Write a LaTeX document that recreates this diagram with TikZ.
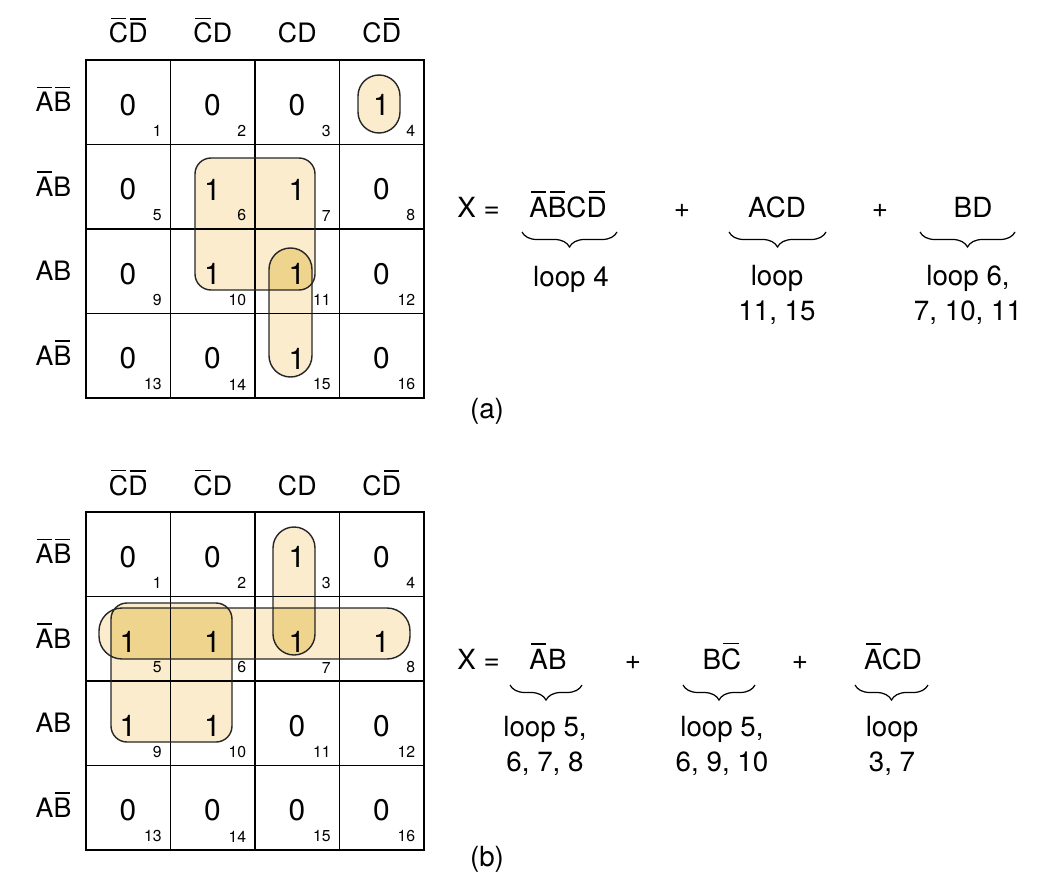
\documentclass[tikz,border=0pt]{standalone}
\usepackage{fontspec}
\setmainfont{TeX Gyre Heros}
\usetikzlibrary{decorations.pathreplacing}

\definecolor{loopcol}{RGB}{250,236,205}
\definecolor{overlapcol}{RGB}{239,212,142}

% letter with its own short bar
\newcommand{\inv}[1]{\setbox0=\hbox{#1}\rlap{\kern0.1\wd0\rule[\dimexpr\ht0+0.14em\relax]{0.8\wd0}{0.055em}}#1}

\tikzset{
  hdr/.style={font=\fontsize{15.2}{18}\selectfont, inner sep=0pt, anchor=base},
  val/.style={font=\fontsize{17}{20}\selectfont, inner sep=0pt},
  idx/.style={font=\fontsize{9}{10}\selectfont, inner sep=0pt, anchor=south east},
  eq/.style={font=\fontsize{15.8}{19.5}\selectfont, inner sep=0pt, anchor=base},
  looplabel/.style={eq, align=center},
  gridline/.style={line width=1.1pt},
  frame/.style={line width=1.5pt},
  loopbox/.style={draw=black!85, line width=0.8pt},
  termbrace/.style={decorate, decoration={brace, mirror, amplitude=0.3cm}, line width=0.7pt}
}

\begin{document}
\begin{tikzpicture}[x=0.02cm, y=-0.02cm]
\useasboundingbox (0,0) rectangle (1037,892);

%% map (a)
\begin{scope}
\fill[loopcol, rounded corners=0.42cm] (358,75) rectangle (400,133);
\fill[loopcol, rounded corners=0.32cm] (195,158) rectangle (315,290);
\fill[loopcol, rounded corners=0.43cm] (269,248) rectangle (312,377);
\begin{scope}
\clip[rounded corners=0.32cm] (195,158) rectangle (315,290);
\fill[overlapcol, rounded corners=0.43cm] (269,248) rectangle (312,377);
\end{scope}

\foreach \x in {170.5,255,339.5} \draw[gridline] (\x,60) -- (\x,398);
\foreach \y in {144.5,229,313.5} \draw[gridline] (86,\y) -- (424,\y);
\draw[frame] (86,60) rectangle (424,398);

\draw[loopbox, rounded corners=0.42cm] (358,75) rectangle (400,133);
\draw[loopbox, rounded corners=0.32cm] (195,158) rectangle (315,290);
\draw[loopbox, rounded corners=0.43cm] (269,248) rectangle (312,377);

\foreach \t [count=\i] in {{\inv{C}\inv{D}},{\inv{C}D},{CD},{C\inv{D}}}
  \node[hdr] (ach\i) at (43.75+84.5*\i,43) {\t};
\foreach \t [count=\i] in {{\inv{A}\inv{B}},{\inv{A}B},{AB},{A\inv{B}}}
  \node[hdr] (arh\i) at (53.5,27+84.5*\i) {\t};

\foreach \v [count=\n] in {0,0,0,1,0,1,1,0,0,1,1,0,0,0,1,0} {
  \pgfmathsetmacro\cx{86+84.5*mod(\n-1,4)}
  \pgfmathsetmacro\cy{60+84.5*int((\n-1)/4)}
  \node[val] (a\n) at (\cx+42,\cy+45) {\v};
  \node[idx] (ai\n) at (\cx+76,\cy+77) {\n};
}

\node[eq, anchor=base west] (ax) at (457,217) {X =};
\node[eq] (at1) at (568,217) {\inv{A}\inv{B}C\inv{D}};
\node[eq] (ap1) at (682,217) {+};
\node[eq] (at2) at (777,217) {ACD};
\node[eq] (ap2) at (880,217) {+};
\node[eq] (at3) at (973,217) {BD};
\draw[termbrace] (522,232) -- (617,232);
\draw[termbrace] (729,232) -- (826,232);
\draw[termbrace] (920,232) -- (1015,232);
\node[looplabel] (al1) at (571,286) {loop 4};
\node[looplabel] (al2) at (777,320) {loop\\11, 15};
\node[looplabel] (al3) at (968,320) {loop 6,\\7, 10, 11};
\node[eq] (alabel) at (487,418) {(a)};
\end{scope}

%% map (b)
\begin{scope}[shift={(0,452)}]
\fill[loopcol, rounded corners=0.46cm] (99,156) rectangle (410,207);
\fill[loopcol, rounded corners=0.32cm] (111,151) rectangle (232,290);
\fill[loopcol, rounded corners=0.42cm] (273,75) rectangle (315,203);
\begin{scope}
\clip[rounded corners=0.46cm] (99,156) rectangle (410,207);
\fill[overlapcol, rounded corners=0.32cm] (111,151) rectangle (232,290);
\fill[overlapcol, rounded corners=0.42cm] (273,75) rectangle (315,203);
\end{scope}

\foreach \x in {170.5,255,339.5} \draw[gridline] (\x,60) -- (\x,398);
\foreach \y in {144.5,229,313.5} \draw[gridline] (86,\y) -- (424,\y);
\draw[frame] (86,60) rectangle (424,398);

\draw[loopbox, rounded corners=0.46cm] (99,156) rectangle (410,207);
\draw[loopbox, rounded corners=0.32cm] (111,151) rectangle (232,290);
\draw[loopbox, rounded corners=0.42cm] (273,75) rectangle (315,203);

\foreach \t [count=\i] in {{\inv{C}\inv{D}},{\inv{C}D},{CD},{C\inv{D}}}
  \node[hdr] (bch\i) at (43.75+84.5*\i,43) {\t};
\foreach \t [count=\i] in {{\inv{A}\inv{B}},{\inv{A}B},{AB},{A\inv{B}}}
  \node[hdr] (brh\i) at (53.5,27+84.5*\i) {\t};

\foreach \v [count=\n] in {0,0,1,0,1,1,1,1,1,1,0,0,0,0,0,0} {
  \pgfmathsetmacro\cx{86+84.5*mod(\n-1,4)}
  \pgfmathsetmacro\cy{60+84.5*int((\n-1)/4)}
  \node[val] (b\n) at (\cx+42,\cy+45) {\v};
  \node[idx] (bi\n) at (\cx+76,\cy+77) {\n};
}

\node[eq, anchor=base west] (bx) at (457,217) {X =};
\node[eq] (bt1) at (548,217) {\inv{A}B};
\node[eq] (bp1) at (633,217) {+};
\node[eq] (bt2) at (722,217) {B\inv{C}};
\node[eq] (bp2) at (800,217) {+};
\node[eq] (bt3) at (893,217) {\inv{A}CD};
\draw[termbrace] (510,233) -- (582,233);
\draw[termbrace] (683,233) -- (755,233);
\draw[termbrace] (855,233) -- (928,233);
\node[looplabel] (bl1) at (545,319) {loop 5,\\6, 7, 8};
\node[looplabel] (bl2) at (722,319) {loop 5,\\6, 9, 10};
\node[looplabel] (bl3) at (892,319) {loop\\3, 7};
\node[eq] (blabel) at (487,414) {(b)};
\end{scope}

\end{tikzpicture}
\end{document}
